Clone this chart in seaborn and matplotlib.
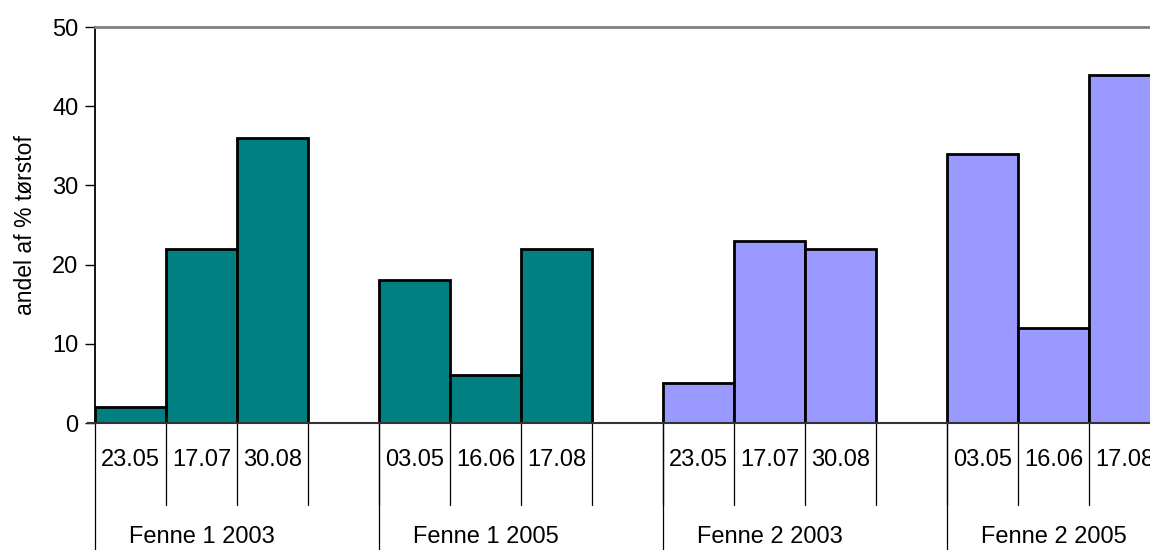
import pandas as pd
import numpy as np
import matplotlib.pyplot as plt
import matplotlib.transforms as mtransforms
import seaborn as sns

sns.set_style('white')
plt.rcParams['font.family'] = ['Liberation Sans', 'DejaVu Sans']
plt.rcParams['text.color'] = 'black'
plt.rcParams['axes.labelcolor'] = 'black'
plt.rcParams['ytick.color'] = 'black'

groups = ['Fenne 1 2003', 'Fenne 1 2005', 'Fenne 2 2003', 'Fenne 2 2005']
dates = [['23.05', '17.07', '30.08'],
         ['03.05', '16.06', '17.08'],
         ['23.05', '17.07', '30.08'],
         ['03.05', '16.06', '17.08']]
values = [[2, 22, 36],
          [18, 6, 22],
          [5, 23, 22],
          [34, 12, 44]]
fenne = ['Fenne 1', 'Fenne 1', 'Fenne 2', 'Fenne 2']
colors = {'Fenne 1': '#008080', 'Fenne 2': '#9999FF'}

# one empty slot after every group of three
rows = []
for g in range(len(groups)):
    for j in range(3):
        rows.append({'slot': g * 4 + j, 'value': values[g][j], 'fenne': fenne[g]})
cars = pd.DataFrame(rows)

fig = plt.figure(figsize=(11.5, 5.5), dpi=100)
ax = fig.add_axes([95 / 1150, 1 - 423 / 550, 1 - 95 / 1150, 396 / 550])

sns.barplot(
    data=cars,
    x='slot',
    y='value',
    hue='fenne',
    order=list(range(16)),
    palette=colors,
    saturation=1,
    dodge=False,
    width=1,
    edgecolor='black',
    linewidth=2,
    legend=False,
    ax=ax
)

ax.set_xlim(-0.5, 14.36)
ax.set_ylim(0, 50)
ax.set_yticks([0, 10, 20, 30, 40, 50])
ax.tick_params(axis='y', labelsize=17, length=7, width=1, color='black',
               labelcolor='black', left=True, pad=5)
ax.set_xticks([])
ax.set_xlabel('')
ax.set_ylabel('andel af % tørstof', fontsize=16.5, labelpad=11)

ax.spines['right'].set_visible(False)
ax.spines['top'].set_color('#808080')
ax.spines['top'].set_linewidth(2)
ax.spines['left'].set_color('black')
ax.spines['left'].set_linewidth(1.3)
ax.spines['bottom'].set_color('#333333')
ax.spines['bottom'].set_linewidth(1.5)
ax.spines['bottom'].set_bounds(-0.6, 14.36)

# multi level category axis
trans = mtransforms.blended_transform_factory(ax.transData, ax.transAxes)
for g in range(len(groups)):
    base = g * 4
    for j in range(3):
        ax.text(base + j, -0.093, dates[g][j], transform=trans, ha='center',
                va='center', fontsize=17)
    for k in range(1, 5):
        ax.plot([base + k - 0.5] * 2, [0, -0.207], transform=trans, color='black',
                lw=0.9, clip_on=False)
    ax.plot([base - 0.5] * 2, [0, -0.33], transform=trans, color='black',
            lw=0.9, clip_on=False)
    ax.text(base + 1, -0.288, groups[g], transform=trans, ha='center',
            va='center', fontsize=17)

fig.savefig('out.png', dpi=100)
